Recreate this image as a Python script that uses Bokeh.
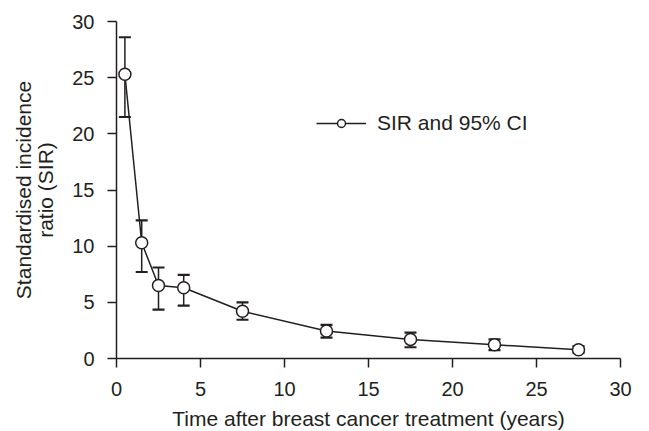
from bokeh.plotting import figure
from bokeh.models import ColumnDataSource, Whisker, TeeHead, Legend, LegendItem, FixedTicker
from bokeh.embed import file_html
from bokeh.resources import INLINE

years = [0.5, 1.5, 2.5, 4.0, 7.5, 12.5, 17.5, 22.5, 27.5]
sir = [25.3, 10.3, 6.5, 6.3, 4.2, 2.45, 1.7, 1.22, 0.78]
ci_low = [21.5, 7.7, 4.35, 4.7, 3.45, 1.85, 1.0, 0.75, 0.5]
ci_high = [28.6, 12.3, 8.1, 7.45, 5.0, 3.0, 2.3, 1.7, 1.1]
x_ticks = [0, 5, 10, 15, 20, 25, 30]
y_ticks = [0, 5, 10, 15, 20, 25, 30]

INK = "#231f20"
FONT = "Liberation Sans"

src = ColumnDataSource(dict(x=years, y=sir, lo=ci_low, hi=ci_high))

p = figure(width=640, height=430, output_backend="svg", toolbar_location=None,
           x_range=(0, 30), y_range=(0, 30),
           min_border_left=116, min_border_right=20, min_border_top=21, min_border_bottom=72)
p.frame_width = 504
p.frame_height = 337
p.outline_line_color = None
p.grid.grid_line_color = None
p.background_fill_color = "white"

for ax in (p.xaxis[0], p.yaxis[0]):
    ax.axis_line_color = INK
    ax.axis_line_width = 1.5
    ax.major_tick_line_color = INK
    ax.major_tick_line_width = 1.5
    ax.major_tick_out = 9
    ax.major_tick_in = 0
    ax.minor_tick_line_color = None
    ax.major_label_text_font = FONT
    ax.major_label_text_font_size = "20px"
    ax.major_label_text_color = INK
    ax.axis_label_text_font = FONT
    ax.axis_label_text_font_size = "21px"
    ax.axis_label_text_color = INK
    ax.axis_label_text_font_style = "normal"

p.xaxis.ticker = FixedTicker(ticks=x_ticks)
p.yaxis.ticker = FixedTicker(ticks=y_ticks)
p.xaxis.axis_label = "Time after breast cancer treatment (years)"
p.yaxis.axis_label = "Standardised incidence\nratio (SIR)"
p.yaxis.axis_label_text_line_height = 0.95
p.xaxis.major_label_standoff = 14
p.yaxis.major_label_standoff = 13
p.xaxis.axis_label_standoff = 8
p.yaxis.axis_label_standoff = 12

w = Whisker(source=src, base="x", upper="hi", lower="lo",
            line_color=INK, line_width=1.5,
            upper_head=TeeHead(size=12, line_color=INK, line_width=2.2),
            lower_head=TeeHead(size=12, line_color=INK, line_width=2.2))
p.add_layout(w)

ln = p.line("x", "y", source=src, line_color=INK, line_width=1.5)
sc = p.scatter("x", "y", source=src, size=12, fill_color="white", line_color=INK, line_width=1.5)

legend = Legend(items=[LegendItem(label="SIR and 95% CI", renderers=[ln, sc])],
                location=(200, 223), glyph_width=50, glyph_height=20, label_height=20,
                label_standoff=11, padding=0, margin=0, border_line_color=None,
                background_fill_alpha=0, label_text_font=FONT,
                label_text_font_size="21px", label_text_color=INK)
p.add_layout(legend)

open("out.html", "w").write(file_html(p, INLINE))
